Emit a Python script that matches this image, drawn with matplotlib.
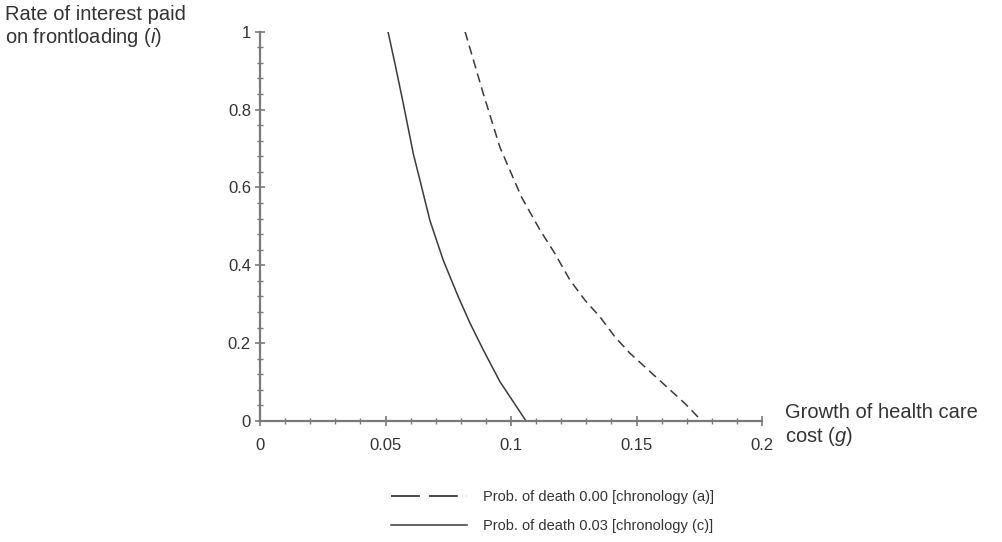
import matplotlib
matplotlib.use("Agg")
import matplotlib.pyplot as plt
from matplotlib.lines import Line2D
from matplotlib.ticker import MultipleLocator

plt.rcParams["font.family"] = ["Liberation Sans", "DejaVu Sans"]
plt.rcParams["mathtext.fontset"] = "custom"
plt.rcParams["mathtext.rm"] = "Liberation Sans"
plt.rcParams["mathtext.it"] = "Liberation Sans:italic"

# curves: growth of health care cost g vs interest rate i
g_death_000 = [0.0817, 0.0890, 0.0956, 0.1042, 0.1116, 0.1175, 0.1235, 0.1295,
               0.1355, 0.1414, 0.1474, 0.1547, 0.1620, 0.1693, 0.1760]
i_death_000 = [1.000, 0.840, 0.703, 0.575, 0.490, 0.430, 0.362, 0.310,
               0.267, 0.216, 0.174, 0.131, 0.088, 0.045, 0.000]

g_death_003 = [0.0510, 0.0538, 0.0571, 0.0611, 0.0644, 0.0677, 0.0730, 0.0790,
               0.0837, 0.0890, 0.0956, 0.1060]
i_death_003 = [1.000, 0.917, 0.815, 0.686, 0.601, 0.515, 0.413, 0.319,
               0.251, 0.182, 0.101, 0.000]

x_ticks = [0, 0.05, 0.1, 0.15, 0.2]
x_tick_labels = ["0", "0.05", "0.1", "0.15", "0.2"]
y_ticks = [0, 0.2, 0.4, 0.6, 0.8, 1]
y_tick_labels = ["0", "0.2", "0.4", "0.6", "0.8", "1"]

labels = ["Prob. of death 0.00 [chronology (a)]",
          "Prob. of death 0.03 [chronology (c)]"]

line_col = "#3a3a3a"
axis_col = "#7a7a7a"
text_col = "#333333"

fig = plt.figure(figsize=(10.03, 5.42), dpi=100)
ax = fig.add_axes([260 / 1003, 1 - 421 / 542, 502 / 1003, (421 - 31.7) / 542])

ax.plot(g_death_000, i_death_000, color=line_col, lw=1.1, dashes=(6, 3.5))
ax.plot(g_death_003, i_death_003, color=line_col, lw=1.1)

ax.set_xlim(0, 0.2)
ax.set_ylim(0, 1)
ax.set_xticks(x_ticks, x_tick_labels)
ax.set_yticks(y_ticks, y_tick_labels)
ax.xaxis.set_minor_locator(MultipleLocator(0.01))
ax.yaxis.set_minor_locator(MultipleLocator(0.04))

for s in ["top", "right"]:
    ax.spines[s].set_visible(False)
for s in ["left", "bottom"]:
    ax.spines[s].set_color(axis_col)
    ax.spines[s].set_linewidth(1.6)

ax.tick_params(which="major", direction="inout", length=7, width=1.2,
               color=axis_col, labelsize=12, labelcolor=text_col, pad=3)
ax.tick_params(which="minor", direction="inout", length=5, width=1.0, color=axis_col)
ax.tick_params(axis="x", which="major", pad=9)

# axis titles
fig.text(5 / 1003, 1 - 14 / 542, "Rate of interest paid", fontsize=14.5,
         color=text_col, ha="left", va="center")
fig.text(5 / 1003, 1 - 38 / 542, r"on frontloading $\mathit{(i)}$", fontsize=14.5,
         color=text_col, ha="left", va="center")
fig.text(785 / 1003, 1 - 413 / 542, "Growth of health care", fontsize=14.5,
         color=text_col, ha="left", va="center")
fig.text(785 / 1003, 1 - 437 / 542, r"cost $\mathit{(g)}$", fontsize=14.5,
         color=text_col, ha="left", va="center")

handles = [Line2D([], [], color=line_col, lw=1.3, dashes=(16, 5)),
           Line2D([], [], color=line_col, lw=1.1)]
fig.legend(handles, labels, loc="upper left", bbox_to_anchor=(391 / 1003, 1 - 490 / 542),
           frameon=False, fontsize=10.5, handlelength=5.2, handletextpad=1.1,
           labelspacing=1.05, borderaxespad=0, borderpad=0, labelcolor=text_col)

fig.savefig("out.png", dpi=100, facecolor="white")
